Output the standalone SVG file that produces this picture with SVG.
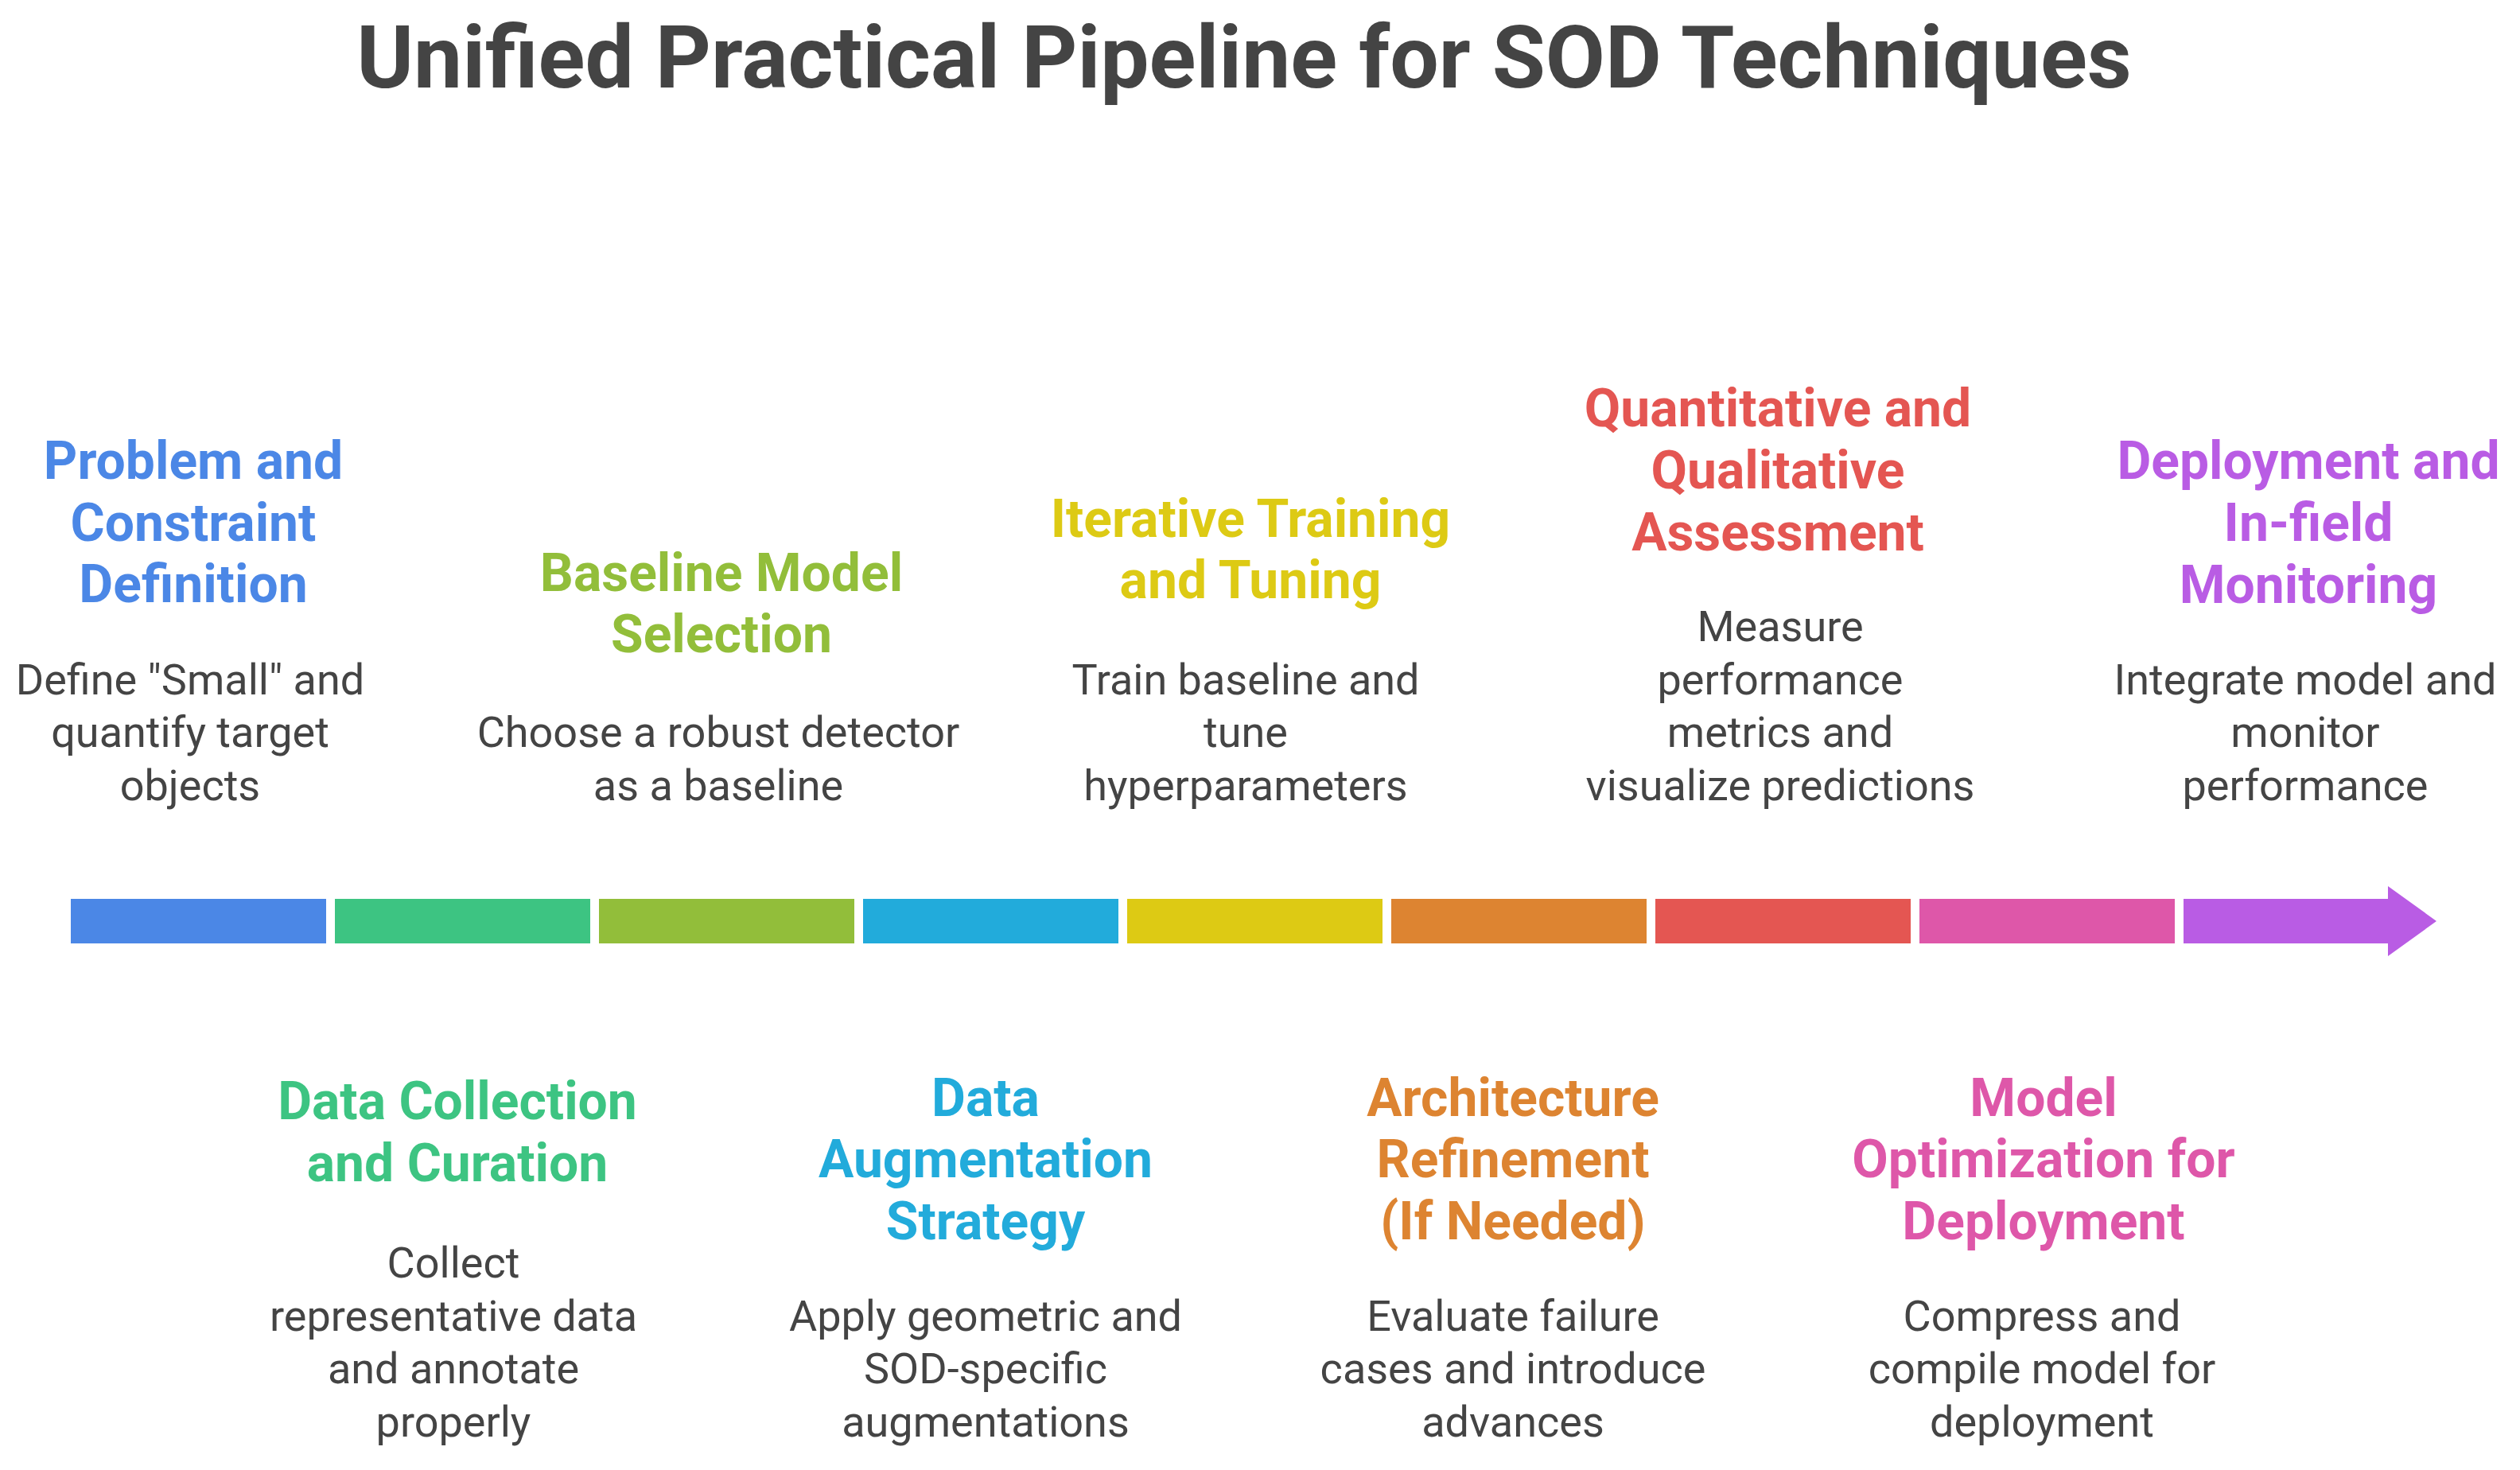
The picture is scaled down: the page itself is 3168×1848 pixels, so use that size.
<svg xmlns="http://www.w3.org/2000/svg" width="3168" height="1848" viewBox="0 0 3168 1848">
<style>
  .title { font-family: Roboto, "Liberation Sans", sans-serif; font-weight: 700; font-size: 109px; fill: #444444; text-anchor: middle; }
  .h { font-family: Roboto, "Liberation Sans", sans-serif; font-weight: 700; font-size: 66px; text-anchor: middle; }
  .b { font-family: Roboto, "Liberation Sans", sans-serif; font-weight: 400; font-size: 54px; fill: #444444; text-anchor: middle; }
  .c1 { fill: #4B87E6; } .c2 { fill: #3DC482; } .c3 { fill: #92BE3A; }
  .c4 { fill: #22ABDB; } .c5 { fill: #DDCA14; } .c6 { fill: #DD8431; }
  .c7 { fill: #E45652; } .c8 { fill: #DE57A9; } .c9 { fill: #B95CE4; }
</style>
<rect width="3168" height="1848" fill="#ffffff"/>
<text class="title" x="1564" y="110">Unified Practical Pipeline for SOD Techniques</text>

<g id="connectors">
  <rect class="c1" x="89" y="1130" width="321" height="56"/>
  <rect class="c2" x="421" y="1130" width="321" height="56"/>
  <rect class="c3" x="753" y="1130" width="321" height="56"/>
  <rect class="c4" x="1085" y="1130" width="321" height="56"/>
  <rect class="c5" x="1417" y="1130" width="321" height="56"/>
  <rect class="c6" x="1749" y="1130" width="321" height="56"/>
  <rect class="c7" x="2081" y="1130" width="321" height="56"/>
  <rect class="c8" x="2413" y="1130" width="321" height="56"/>
  <path class="c9" d="M2745 1130 H3002 V1114 L3063 1158 L3002 1202 V1186 H2745 Z"/>
</g>

<g id="node1">
  <text class="h c1" x="243" y="602">Problem and</text>
  <text class="h c1" x="243" y="680">Constraint</text>
  <text class="h c1" x="243" y="757">Definition</text>
  <text class="b" x="239" y="873">Define "Small" and</text>
  <text class="b" x="239" y="939">quantify target</text>
  <text class="b" x="239" y="1006">objects</text>
</g>

<g id="node2">
  <text class="h c2" x="575" y="1407">Data Collection</text>
  <text class="h c2" x="575" y="1485">and Curation</text>
  <text class="b" x="570" y="1606">Collect</text>
  <text class="b" x="570" y="1673">representative data</text>
  <text class="b" x="570" y="1739">and annotate</text>
  <text class="b" x="570" y="1806">properly</text>
</g>

<g id="node3">
  <text class="h c3" x="907" y="743">Baseline Model</text>
  <text class="h c3" x="907" y="820">Selection</text>
  <text class="b" x="903" y="939">Choose a robust detector</text>
  <text class="b" x="903" y="1006">as a baseline</text>
</g>

<g id="node4">
  <text class="h c4" x="1239" y="1403">Data</text>
  <text class="h c4" x="1239" y="1480">Augmentation</text>
  <text class="h c4" x="1239" y="1558">Strategy</text>
  <text class="b" x="1239" y="1673">Apply geometric and</text>
  <text class="b" x="1239" y="1739">SOD-specific</text>
  <text class="b" x="1239" y="1806">augmentations</text>
</g>

<g id="node5">
  <text class="h c5" x="1572" y="675">Iterative Training</text>
  <text class="h c5" x="1572" y="752">and Tuning</text>
  <text class="b" x="1566" y="873">Train baseline and</text>
  <text class="b" x="1566" y="939">tune</text>
  <text class="b" x="1566" y="1006">hyperparameters</text>
</g>

<g id="node6">
  <text class="h c6" x="1902" y="1403">Architecture</text>
  <text class="h c6" x="1902" y="1480">Refinement</text>
  <text class="h c6" x="1902" y="1558">(If Needed)</text>
  <text class="b" x="1902" y="1673">Evaluate failure</text>
  <text class="b" x="1902" y="1739">cases and introduce</text>
  <text class="b" x="1902" y="1806">advances</text>
</g>

<g id="node7">
  <text class="h c7" x="2235" y="536">Quantitative and</text>
  <text class="h c7" x="2235" y="614">Qualitative</text>
  <text class="h c7" x="2235" y="692">Assessment</text>
  <text class="b" x="2238" y="806">Measure</text>
  <text class="b" x="2238" y="873">performance</text>
  <text class="b" x="2238" y="939">metrics and</text>
  <text class="b" x="2238" y="1006">visualize predictions</text>
</g>

<g id="node8">
  <text class="h c8" x="2569" y="1403">Model</text>
  <text class="h c8" x="2569" y="1480">Optimization for</text>
  <text class="h c8" x="2569" y="1558">Deployment</text>
  <text class="b" x="2567" y="1673">Compress and</text>
  <text class="b" x="2567" y="1739">compile model for</text>
  <text class="b" x="2567" y="1806">deployment</text>
</g>

<g id="node9">
  <text class="h c9" x="2902" y="602">Deployment and</text>
  <text class="h c9" x="2902" y="680">In-field</text>
  <text class="h c9" x="2902" y="758">Monitoring</text>
  <text class="b" x="2898" y="873">Integrate model and</text>
  <text class="b" x="2898" y="939">monitor</text>
  <text class="b" x="2898" y="1006">performance</text>
</g>
</svg>
